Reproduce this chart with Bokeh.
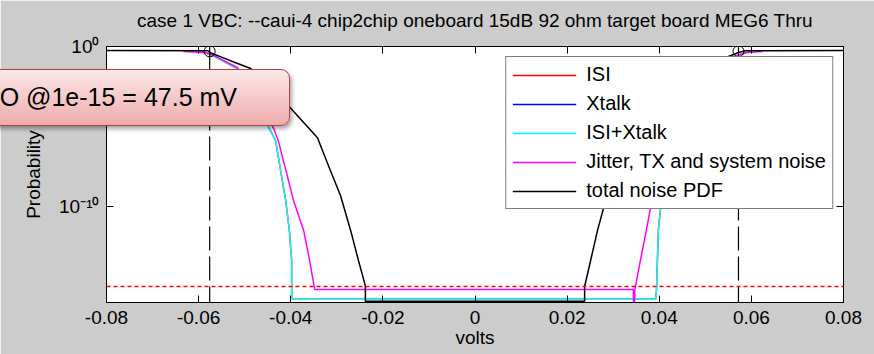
import numpy as np
from bokeh.plotting import figure
from bokeh.layouts import column
from bokeh.models import (Range1d, FixedTicker, CustomJSTickFormatter, LinearAxis, LogAxis,
                          Legend, LegendItem, Span, Div)
from bokeh.embed import file_html
from bokeh.resources import INLINE

# ---------------- data ----------------
title_text = "case 1 VBC: --caui-4 chip2chip oneboard 15dB 92 ohm target board MEG6 Thru"
x_label = "volts"
y_label = "Probability"
x_ticks = [-0.08, -0.06, -0.04, -0.02, 0.0, 0.02, 0.04, 0.06, 0.08]
y_ticks = [1e-10, 1.0]
y_tick_labels = ["10\u207b\u00b9\u2070", "10\u2070"]
legend_labels = ["ISI", "Xtalk", "ISI+Xtalk", "Jitter, TX and system noise", "total noise PDF"]

total_x = [-0.0800, -0.0580, -0.0576, -0.0531, -0.0487, -0.0401, -0.0342, -0.0314, -0.0292,
           -0.0270, -0.0253, -0.0238, -0.0238,
           0.0238, 0.0238, 0.0251, 0.0266, 0.0280, 0.0292, 0.0314, 0.0342, 0.0401, 0.0485,
           0.0572, 0.0587, 0.0800]
total_p = [5.6e-1, 5.4e-1, 4.2e-1, 1.3e-1, 4.2e-2, 1.5e-4, 2.0e-6, 1.8e-8, 4.9e-10,
           3.2e-12, 4.2e-14, 1.1e-15, 1.2e-16,
           1.2e-16, 1.0e-15, 4.2e-14, 3.2e-12, 1.0e-10, 1.0e-9, 2.5e-8, 2.0e-6, 1.5e-4, 4.2e-2,
           4.2e-1, 5.4e-1, 5.6e-1]

jitter_x = [-0.0633, -0.0585, -0.0563, -0.0516, -0.0437, -0.0427, -0.0394, -0.0372, -0.0359,
            -0.0348, 0.0344, 0.0344, 0.0346, 0.0347, 0.0359, 0.0372, 0.0381, 0.0394, 0.0427,
            0.0437, 0.0516, 0.0563, 0.0590, 0.0624]
jitter_p = [4.9e-1, 4.2e-1, 2.4e-1, 4.9e-2, 7.5e-6, 1.3e-6, 2.4e-10, 3.2e-12, 4.2e-14,
            6.5e-16, 6.5e-16, 3.2e-17, 3.2e-17, 6.3e-16, 4.2e-14, 3.2e-12, 7.9e-11, 2.4e-10, 1.3e-6,
            7.5e-6, 4.9e-2, 2.4e-1, 4.2e-1, 4.9e-1]

isi_xtalk_x = [-0.0600, -0.0585, -0.0563, -0.0518, -0.0444, -0.0433, -0.0411, -0.0403, -0.0398,
               -0.0398, -0.0396, 0.0392, 0.0394, 0.0396, 0.0398, 0.0403, 0.0411, 0.0433, 0.0444,
               0.0518, 0.0563, 0.0585, 0.0600]
isi_xtalk_p = [4.5e-1, 4.0e-1, 2.2e-1, 4.5e-2, 5.6e-6, 1.3e-6, 2.4e-10, 3.2e-12, 4.2e-14,
               2.5e-16, 1.6e-16, 1.6e-16, 5.6e-16, 4.2e-14, 3.2e-12, 7.9e-11, 2.4e-10, 1.3e-6, 5.6e-6,
               4.5e-2, 2.2e-1, 4.0e-1, 4.5e-1]

isi_x = [-0.0600, -0.0585, -0.0563, -0.0518, -0.0444, -0.0433, -0.0411, -0.0403, -0.0398,
         -0.0398, -0.0396, 0.0392, 0.0394, 0.0396, 0.0398, 0.0403, 0.0411, 0.0433, 0.0444,
         0.0518, 0.0563, 0.0585, 0.0600]
isi_p = [4.5e-1, 4.0e-1, 2.2e-1, 4.5e-2, 5.6e-6, 1.3e-6, 2.4e-10, 3.2e-12, 4.2e-14,
         2.5e-16, 1.6e-16, 1.6e-16, 5.6e-16, 4.2e-14, 3.2e-12, 7.9e-11, 2.4e-10, 1.3e-6, 5.6e-6,
         4.5e-2, 2.2e-1, 4.0e-1, 4.5e-1]

xtalk_x = [-0.0577, -0.0575, np.nan, 0.0571, 0.0573]
xtalk_p = [5.0e-1, 5.0e-1, np.nan, 5.0e-1, 5.0e-1]

eye_edge_x = [-0.0576, 0.0572]
eye_edge_p = [5.0e-1, 5.0e-1]
ber_target = 1e-15
eye_opening_text = "O @1e-15 = 47.5 mV"

# ---------------- styling ----------------
FONT = "Liberation Sans"
TXT = "#000000"

p = figure(width=874, height=354,
           x_range=Range1d(-0.08, 0.08), y_range=Range1d(1e-16, 1.0),
           y_axis_type="log", output_backend="svg", toolbar_location=None,
           min_border_left=106, min_border_right=31, min_border_top=46, min_border_bottom=52,
           border_fill_color="#cccccc", background_fill_color="white",
           outline_line_color="black", outline_line_width=1)
p.grid.visible = False

p.title.text = title_text
p.title.align = "center"
p.title.text_font = FONT
p.title.text_font_size = "19px"
p.title.text_font_style = "normal"
p.title.text_color = TXT
try:
    p.title.padding = dict(top=0, right=0, bottom=11, left=0)
except Exception:
    pass

for ax in p.xaxis:
    ax.ticker = FixedTicker(ticks=x_ticks)
    ax.formatter = CustomJSTickFormatter(code="return tick == 0 ? '0' : tick.toFixed(2);")
    ax.major_tick_in = 7
    ax.major_tick_out = 0
    ax.minor_tick_in = 0
    ax.minor_tick_out = 0
    ax.major_label_standoff = 8
    ax.major_label_text_font = FONT
    ax.major_label_text_font_size = "19px"
    ax.major_label_text_color = TXT
    ax.axis_label = x_label
    ax.axis_label_text_font = FONT
    ax.axis_label_text_font_size = "19px"
    ax.axis_label_text_font_style = "normal"
    ax.axis_label_text_color = TXT
    ax.axis_label_standoff = 0
    ax.axis_line_color = "black"

for ax in p.yaxis:
    ax.ticker = FixedTicker(ticks=y_ticks)
    ax.formatter = CustomJSTickFormatter(
        args=dict(yt_vals=y_ticks, yt_text=y_tick_labels),
        code="""
        for (let i = 0; i < yt_vals.length; i++) {
            if (Math.abs(Math.log10(yt_vals[i]) - Math.log10(tick)) < 0.01) return yt_text[i];
        }
        return '';
        """)
    ax.major_tick_in = 7
    ax.major_tick_out = 0
    ax.minor_tick_in = 0
    ax.minor_tick_out = 0
    ax.major_label_standoff = 7
    ax.major_label_text_font = FONT
    ax.major_label_text_font_size = "19px"
    ax.major_label_text_color = TXT
    ax.axis_label = y_label
    ax.axis_label_text_font = FONT
    ax.axis_label_text_font_size = "19px"
    ax.axis_label_text_font_style = "normal"
    ax.axis_label_text_color = TXT
    ax.axis_label_standoff = 12
    ax.axis_line_color = "black"

top_axis = LinearAxis(ticker=FixedTicker(ticks=x_ticks),
                      formatter=CustomJSTickFormatter(code="return '';"),
                      major_tick_in=7, major_tick_out=0, minor_tick_in=0, minor_tick_out=0,
                      major_label_standoff=0, axis_line_color="black")
p.add_layout(top_axis, "above")
right_axis = LogAxis(ticker=FixedTicker(ticks=y_ticks),
                     formatter=CustomJSTickFormatter(code="return '';"),
                     major_tick_in=7, major_tick_out=0, minor_tick_in=0, minor_tick_out=0,
                     major_label_standoff=0, axis_line_color="black")
p.add_layout(right_axis, "right")

# ---------------- series ----------------
LW = 1.5
r_isi = p.line(isi_x, isi_p, line_color="#ff0000", line_width=LW)
r_xt = p.line(xtalk_x, xtalk_p, line_color="#0000ff", line_width=LW)
r_ix = p.line(isi_xtalk_x, isi_xtalk_p, line_color="#00ffff", line_width=LW)
r_jit = p.line(jitter_x, jitter_p, line_color="#ff00ff", line_width=LW)
r_tot = p.line(total_x, total_p, line_color="#000000", line_width=LW)
p.scatter(eye_edge_x, eye_edge_p, marker="circle", size=11, fill_color=None,
          line_color="black", line_width=1)

for xe in eye_edge_x:
    p.add_layout(Span(location=xe, dimension="height", line_color="black",
                      line_dash="24 6", line_width=1.2))
p.add_layout(Span(location=ber_target, dimension="width", line_color="#ff0000",
                  line_dash="4 3", line_width=1.5))

legend = Legend(items=[LegendItem(label=lab, renderers=[r]) for lab, r in
                       zip(legend_labels, [r_isi, r_xt, r_ix, r_jit, r_tot])],
                location="top_right")
legend.label_text_font = FONT
legend.label_text_font_size = "20px"
legend.label_text_color = TXT
legend.glyph_width = 64
legend.glyph_height = 20
legend.label_height = 20
legend.label_standoff = 10
legend.spacing = 6
legend.padding = 6
legend.margin = 10
legend.border_line_color = "black"
legend.border_line_width = 1
legend.background_fill_color = "white"
legend.background_fill_alpha = 1
p.add_layout(legend)

# ---------------- callout (overlay note on the picture) ----------------
callout_html = (
    '<div style="width:302px;height:57px;box-sizing:border-box;'
    'background:linear-gradient(#fbe8e8,#eeacab);border:1px solid #b5403d;'
    'border-radius:9px;box-shadow:2px 3px 4px rgba(0,0,0,0.35);'
    "font-family:'Liberation Sans',Arial,sans-serif;font-size:25px;color:#000;"
    'display:flex;align-items:center;justify-content:flex-end;padding-right:52px;'
    'white-space:nowrap;">' + eye_opening_text + '</div>'
)
callout = Div(text=callout_html, width=302, height=57, margin=0,
              styles={"position": "absolute", "left": "-12px", "top": "69px", "z-index": "10"})

layout = column(p, callout, spacing=0)
open("out.html", "w").write(file_html(layout, INLINE))
